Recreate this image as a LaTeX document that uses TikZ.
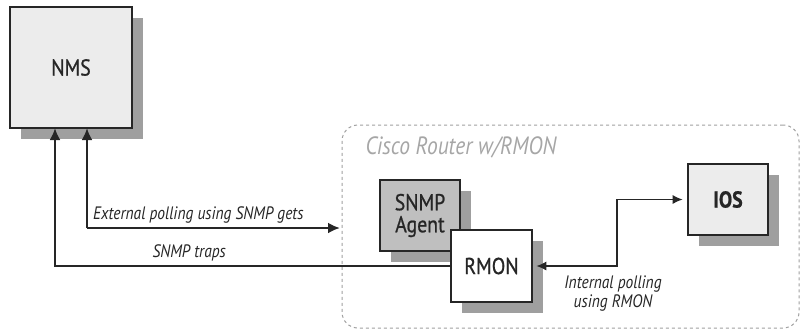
\documentclass[tikz,border=0pt]{standalone}
\usepackage{fontspec}
\setmainfont{PT Sans}[FakeStretch=0.86]
\newfontfamily\boxfont{PT Sans}[FakeStretch=0.86, FakeBold=0.8]
\usepackage{tikz}
\usetikzlibrary{arrows.meta, positioning, calc, shadows}

\begin{document}
\begin{tikzpicture}[
  x=1pt, y=-1pt,
  devbox/.style={
    rectangle, draw=black!85, line width=2.6pt,
    fill=gray!15, align=center, inner sep=2pt,
    font=\boxfont\fontsize{23}{22}\selectfont, text=black!85,
    drop shadow={shadow xshift=11pt, shadow yshift=-11pt,
      fill=gray!75, opacity=1}},
  agentbox/.style={devbox, fill=gray!50},
  rmonbox/.style={devbox, fill=white},
  routerframe/.style={
    rectangle, rounded corners=16pt, draw=gray!75,
    dashed, line width=1pt},
  arrowthick/.style={-{Latex[length=12pt, width=11pt]}, line width=2.4pt, draw=black!85},
  arrowthin/.style={{Latex[length=10pt, width=9pt]}-{Latex[length=10pt, width=9pt]},
    line width=1.4pt, draw=black!85},
  lbl/.style={font=\fontsize{18}{19}\selectfont\itshape, text=black!85, align=center},
]
\useasboundingbox (0,0) rectangle (801,330);

%% ---- Router frame ----
\node[routerframe, minimum width=457pt, minimum height=203pt] (router) at (570.5, 226.5) {};
\node[font=\fontsize{25}{26}\selectfont\itshape, text=gray!70, anchor=west]
  (routerlbl) at (362, 147) {Cisco Router w/RMON};

%% ---- Coordinates for connectors ----
\coordinate (nmsL) at (55, 128);
\coordinate (nmsR) at (87, 128);
\coordinate (extend) at (340, 228);
\coordinate (bend) at (617, 266);

%% ---- Devices ----
\node[devbox, minimum width=122pt, minimum height=121pt] (nms) at (71, 67.5) {NMS};
\node[agentbox, minimum width=80pt, minimum height=71pt] (agent) at (420, 215.5) {SNMP\\Agent};
\node[rmonbox, minimum width=81pt, minimum height=72pt] (rmon) at (491.5, 266) {RMON};
\node[devbox, minimum width=80pt, minimum height=71pt] (ios) at (728, 199.5) {\bfseries IOS};

%% ---- Connectors ----
\draw[arrowthick] (nmsR |- extend) -- (nmsR) ;
\draw[arrowthick] (nmsR |- extend) --
  node[lbl, above=0pt, pos=0.44]{External polling using SNMP gets} (extend);
\draw[arrowthick] (rmon.west) --
  node[lbl, above=0pt, pos=0.66]{SNMP traps} (nmsL |- rmon.west) -- (nmsL);
\draw[arrowthin, shorten <=3pt, shorten >=4pt] (rmon.east) -- (bend) |- (ios.west);
\node[lbl, below=6pt of bend, xshift=-4pt] (intlbl) {Internal polling\\using RMON};

\end{tikzpicture}
\end{document}
